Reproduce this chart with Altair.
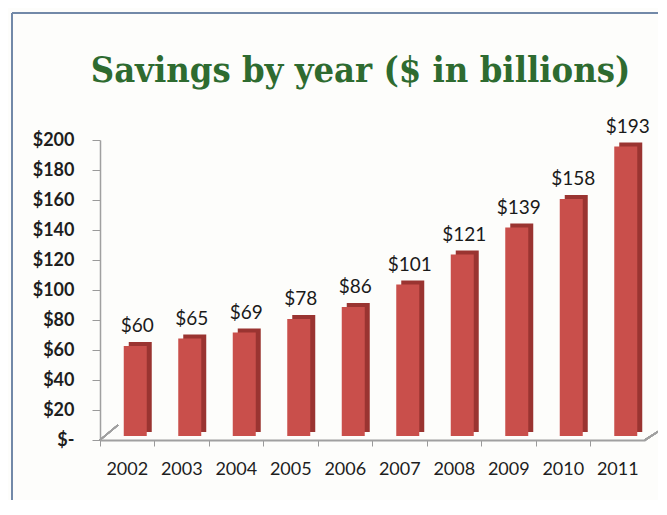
import altair as alt
import pandas as pd

years = ["2002", "2003", "2004", "2005", "2006", "2007", "2008", "2009", "2010", "2011"]
savings = [60, 65, 69, 78, 86, 101, 121, 139, 158, 193]
labels = ["$" + str(v) for v in savings]

df = pd.DataFrame({"year": years, "savings": savings, "label": labels})

xenc = alt.X("year:N", sort=years,
             scale=alt.Scale(paddingInner=0, paddingOuter=0),
             axis=alt.Axis(title=None, labelAngle=0, labelFont="Lato", labelFontSize=18,
                           labelColor="#1e1e1e", labelPadding=14, bandPosition=0,
                           tickColor="#9a9a9a", tickSize=6, domainColor="#a0a0a0",
                           domainWidth=2))
yenc = alt.Y("savings:Q", scale=alt.Scale(domain=[0, 200]),
             axis=alt.Axis(title=None, values=list(range(0, 201, 20)),
                           labelExpr="datum.value == 0 ? '$-' : '$' + datum.value",
                           labelFont="Lato", labelFontSize=18, labelFontWeight="bold",
                           labelColor="#1e1e1e", labelPadding=18, tickColor="#9a9a9a",
                           tickSize=8, domainColor="#a0a0a0", domainWidth=1.5, grid=False))

base = alt.Chart(df)

side = base.mark_bar(size=23, xOffset=13, yOffset=-8, color="#9a3431").encode(x=xenc, y=yenc)
front = base.mark_bar(size=23, xOffset=8, yOffset=-4, color="#c94f4b").encode(x=xenc, y=yenc)
text = base.mark_text(xOffset=10, dy=-18, baseline="alphabetic", font="Lato",
                      fontSize=19, color="#1a1a1a").encode(x=xenc, y=yenc, text="label:N")

floor_l = base.mark_rule(color="#a0a0a0", strokeWidth=1.5).encode(
    x=alt.value(0), x2=alt.value(18), y=alt.value(300), y2=alt.value(285))
floor_r = base.mark_rule(color="#a0a0a0", strokeWidth=1.5).encode(
    x=alt.value(545), x2=alt.value(567), y=alt.value(300), y2=alt.value(286))

border_l = base.mark_rule(color="#7289a8", strokeWidth=2).encode(
    x=alt.value(-88), y=alt.value(-127), y2=alt.value(400))
border_t = base.mark_rule(color="#7289a8", strokeWidth=2).encode(
    x=alt.value(-88), x2=alt.value(600), y=alt.value(-127))

chart = alt.layer(border_l, border_t, floor_l, floor_r, side, front, text).properties(
    width=545, height=300,
    autosize=alt.AutoSizeParams(type="none"),
    padding={"left": 92, "top": 132, "right": 13, "bottom": 60},
    title=alt.TitleParams("Savings by year ($ in billions)", font="DejaVu Serif Condensed",
                          fontSize=36, fontWeight="bold", color="#2e6b30",
                          frame="group", anchor="middle", baseline="alphabetic",
                          offset=-106, dx=-12),
    background="#fdfdfb",
).configure_view(stroke=None)

chart.save("out.html", embed_options={"renderer": "svg", "actions": False})
